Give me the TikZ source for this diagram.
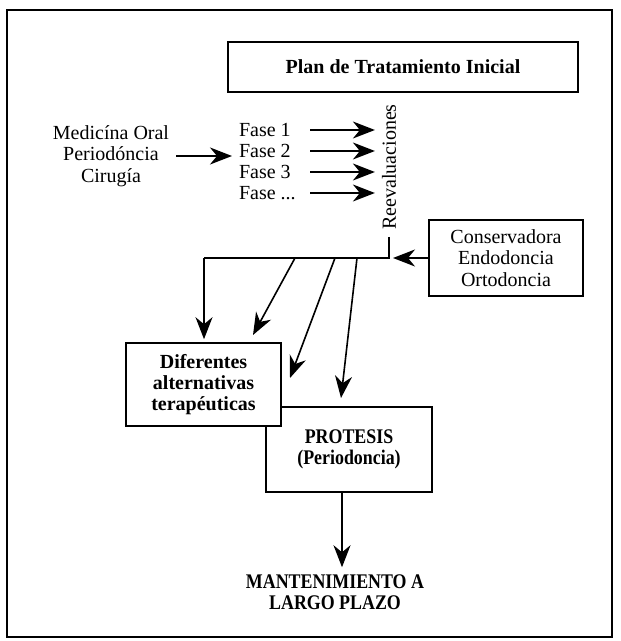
\documentclass[tikz,border=0pt]{standalone}
\usepackage{fontspec}
\setmainfont{Liberation Serif}
\newfontfamily\narrowbf[FakeStretch=0.86]{Liberation Serif}
\usetikzlibrary{arrows.meta}

\begin{document}
\begin{tikzpicture}[x=0.5pt, y=-0.5pt,
    plaintext/.style={font=\fontsize{10}{10.7}\selectfont, align=center},
    boldtext/.style={font=\fontsize{10}{10.7}\selectfont\bfseries, align=center},
    capstext/.style={font=\fontsize{10.4}{10.7}\selectfont\narrowbf\bfseries, align=center},
    diagbox/.style={draw, line width=0.8pt, fill=white},
    bigarrow/.style={-{Stealth[length=11pt, width=8.5pt, inset=3.5pt]}, line width=0.8pt}]

    % Page frame
    \useasboundingbox (0,0) rectangle (620,641);
    \draw[line width=0.9pt] (7,10) rectangle (612,637);

    % Title
    \node[diagbox, boldtext, minimum width=175pt, minimum height=25pt] (plan) at (403,67) {Plan de Tratamiento Inicial};

    % Initial phases
    \node[plaintext] (med) at (111,156) {Medicína Oral\\Periodóncia\\Cirugía};
    \node[plaintext, rotate=90] (reev) at (389,167) {Reevaluaciones};
    \coordinate (fx) at (310,0);
    \foreach \lab [count=\i] in {{Fase 1}, {Fase 2}, {Fase 3}, {Fase {...}}} {
        \node[plaintext, anchor=west] (f\i) at (232,{109+21*\i}) {\lab};
        \draw[bigarrow] (f\i.east -| fx) -- (f\i.east -| reev.north);
    }
    \draw[bigarrow] (med.east) -- (med.east -| f2.west);

    % Reevaluation bar
    \coordinate (barR) at (389,258);
    \coordinate (barL) at (204,258);
    \draw[line width=0.8pt] (reev.west) -- (barR) -- (barL);

    % Complementary treatments
    \node[diagbox, plaintext, minimum width=77pt, minimum height=38pt] (cons) at (506,258) {Conservadora\\Endodoncia\\Ortodoncia};
    \draw[bigarrow] (cons.west) -- ([xshift=2pt]barR);

    % Treatment boxes
    \node[diagbox, capstext, minimum width=83pt, minimum height=42.5pt] (prot) at (349,449.5) {PROTESIS\\(Periodoncia)};
    \node[diagbox, boldtext, minimum width=77.5pt, minimum height=41.5pt] (dif) at (203.5,384.5) {Diferentes\\alternativas\\terapéuticas};

    % Arrows from the bar
    \coordinate (b1) at (295,258); \coordinate (t1) at (253,335);
    \coordinate (b2) at (335,258); \coordinate (t2) at (290,378);
    \coordinate (b3) at (357,258); \coordinate (t3) at (341,398);
    \draw[bigarrow] (barL) -- ([yshift=1.5pt]barL |- dif.north);
    \foreach \i in {1,2,3}
        \draw[bigarrow] (b\i) -- (t\i);

    % Maintenance
    \node[capstext] (mant) at (335,592) {MANTENIMIENTO A\\LARGO PLAZO};
    \coordinate (px) at (342,0);
    \draw[bigarrow] (prot.south -| px) -- (mant.north -| px);
\end{tikzpicture}
\end{document}
